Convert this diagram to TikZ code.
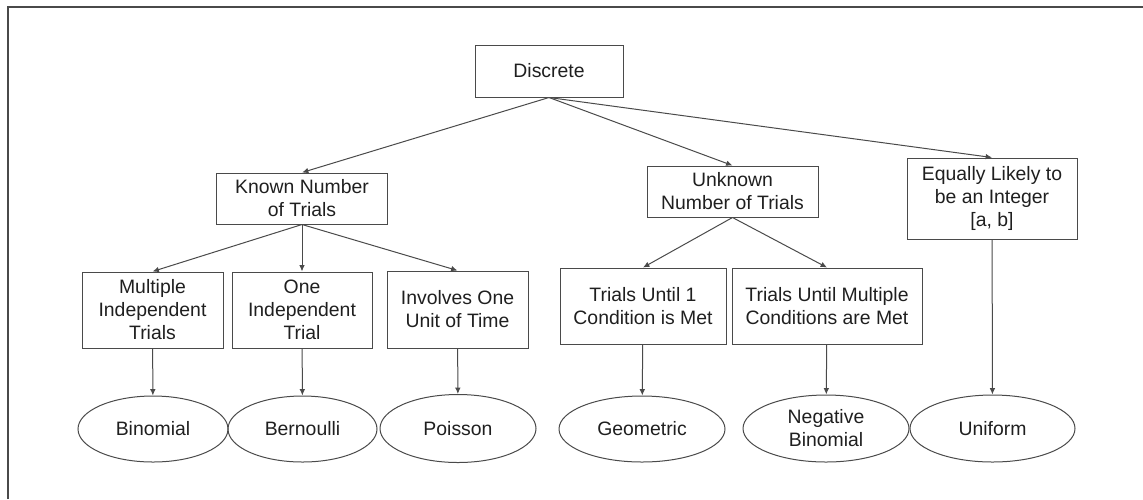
\documentclass[tikz,border=0pt]{standalone}
\usepackage{fontspec}
\setmainfont{Liberation Sans}
\usepackage{xcolor}
\usetikzlibrary{arrows.meta, positioning, shapes.geometric}

\definecolor{linegray}{HTML}{4A4A4A}
\definecolor{textgray}{HTML}{1F1F1F}

\begin{document}
\begin{tikzpicture}[
		  x=0.5pt, y=-0.5pt,
		  font=\fontsize{9.7}{11.5}\selectfont,
		  text=textgray,
		  box/.style={
		    draw=linegray,
		    line width=0.5pt,
		    align=center,
		    inner sep=0pt,
		    minimum width=70.5pt,
		    minimum height=38pt
		  },
		  topbox/.style={box,minimum height=25.5pt},
		  leaf/.style={
		    draw=linegray,
		    line width=0.5pt,
		    ellipse,
		    align=center,
		    inner sep=0pt,
		    minimum width=75pt,
		    minimum height=33pt
		  },
		  arrow/.style={-{Latex[length=3.2pt,width=2.8pt]},draw=linegray,line width=0.5pt}
		]

		\useasboundingbox (0,0) rectangle (1143,499);

		% --- frame ---
		\draw[linegray, line width=0.6pt] (8,499) -- (8,7) -- (1143,7);

		% --- root ---
		\node[topbox, minimum width=74pt, minimum height=26pt] (disc) at (549,71) {Discrete};

		% --- second level ---
		\node[topbox, minimum width=85.5pt] (known) at (302,198.5) {Known Number\\of Trials};
		\node[topbox, minimum width=85.5pt] (unknown) at (732.5,191.5) {Unknown\\Number of Trials};
		\node[box, minimum width=85pt, minimum height=40.5pt] (equal) at (992,198.5) {Equally Likely to\\be an Integer\\{}[a, b]};

		% --- third level ---
		\node[box] (multi) at (152.5,310) {Multiple\\Independent\\Trials};
		\node[box, minimum width=70pt] (one) at (302,310) {One\\Independent\\Trial};
		\node[box, minimum height=38.5pt] (unit) at (457.5,309.5) {Involves One\\Unit of Time};
		\node[box, minimum width=83pt] (until1) at (643,306) {Trials Until 1\\Condition is Met};
		\node[box, minimum width=95pt] (untilm) at (827,306) {Trials Until Multiple\\Conditions are Met};

		% --- distributions ---
		\node[leaf] (binom) at (153,429) {Binomial};
		\node[leaf, minimum width=74.5pt] (bern) at (302.5,429) {Bernoulli};
		\node[leaf, minimum width=78pt, minimum height=34pt] (pois) at (458,428.5) {Poisson};
		\node[leaf, minimum width=83pt] (geom) at (642,429) {Geometric};
		\node[leaf, minimum width=83pt, minimum height=33.5pt] (negbin) at (826,428.5) {Negative\\Binomial};
		\node[leaf, minimum width=82.5pt, minimum height=33.5pt] (unif) at (992.5,428.5) {Uniform};

		% --- arrows ---
		\draw[arrow] (disc.south) -- (known.north);
		\draw[arrow] (disc.south) -- (unknown.north);
		\draw[arrow] (disc.south) -- (equal.north);

		\draw[arrow] (known.south) -- (multi.north);
		\draw[arrow] (known.south) -- (one.north);
		\draw[arrow] (known.south) -- (unit.north);

		\draw[arrow] (unknown.south) -- (until1.north);
		\draw[arrow] (unknown.south) -- (untilm.north);

		\draw[arrow] (multi) -- (binom);
		\draw[arrow] (one) -- (bern);
		\draw[arrow] (unit) -- (pois);
		\draw[arrow] (until1) -- (geom);
		\draw[arrow] (untilm) -- (negbin);
		\draw[arrow] (equal) -- (unif);

		\end{tikzpicture}
\end{document}
